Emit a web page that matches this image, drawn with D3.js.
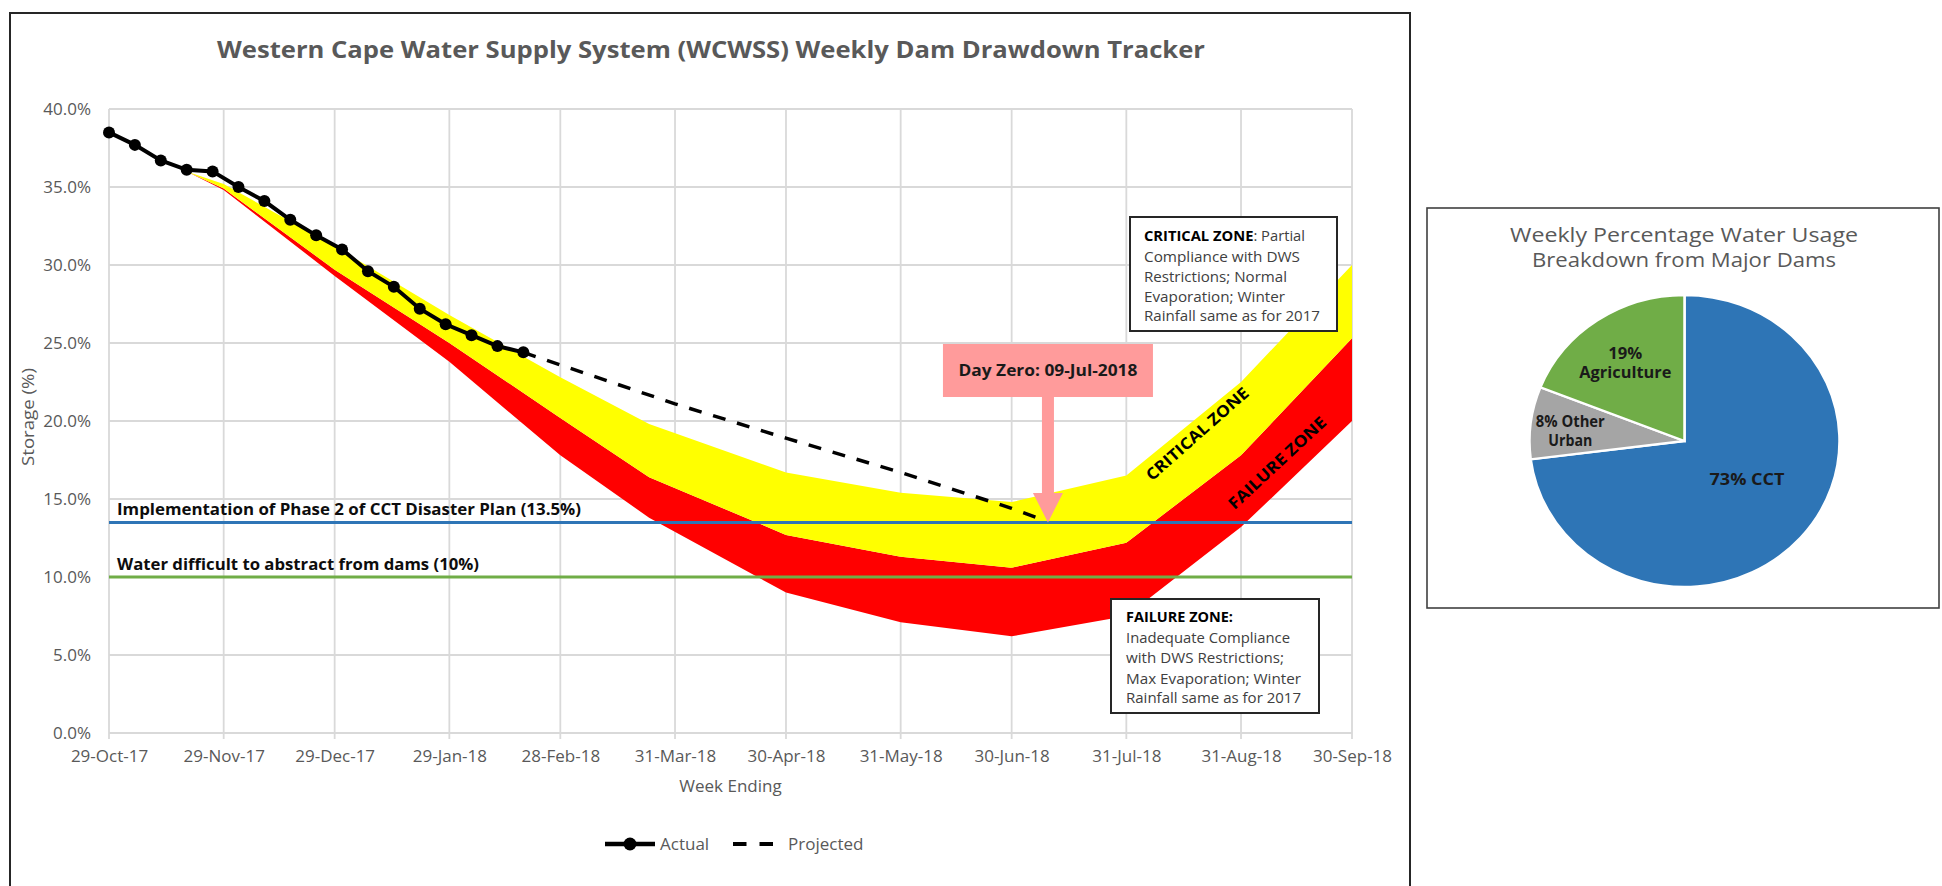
<!DOCTYPE html>
<html><head><meta charset="utf-8">
<script src="https://cdn.jsdelivr.net/npm/d3@7"></script>
<style>body{margin:0;background:#fff;} svg{display:block;}</style>
</head><body>
<svg id="c" width="1942" height="886"></svg>
<script>
// ---------------- DATA ----------------
const tickDates  = ["2017-10-29","2017-11-29","2017-12-29","2018-01-29","2018-02-28","2018-03-31","2018-04-30","2018-05-31","2018-06-30","2018-07-31","2018-08-31","2018-09-30"];
const tickLabels = ["29-Oct-17","29-Nov-17","29-Dec-17","29-Jan-18","28-Feb-18","31-Mar-18","30-Apr-18","31-May-18","30-Jun-18","31-Jul-18","31-Aug-18","30-Sep-18"];
const yTicks = [0, 5, 10, 15, 20, 25, 30, 35, 40];

const actualDates  = ["2017-10-29","2017-11-05","2017-11-12","2017-11-19","2017-11-26","2017-12-03","2017-12-10","2017-12-17","2017-12-24","2017-12-31","2018-01-07","2018-01-14","2018-01-21","2018-01-28","2018-02-04","2018-02-11","2018-02-18"];
const actualValues = [38.5, 37.7, 36.7, 36.1, 36.0, 35.0, 34.1, 32.9, 31.9, 31.0, 29.6, 28.6, 27.2, 26.2, 25.5, 24.8, 24.4];

const projectedDates  = ["2018-02-18","2018-03-31","2018-04-30","2018-05-31","2018-06-30","2018-07-08"];
const projectedValues = [24.4, 21.1, 18.9, 16.7, 14.4, 13.7];

const zoneDates     = ["2017-11-19","2017-11-29","2017-12-29","2018-01-29","2018-02-28","2018-03-24","2018-04-30","2018-05-31","2018-06-30","2018-07-31","2018-08-31","2018-09-30"];
const criticalUpper = [36.0, 35.2, 31.2, 26.8, 22.8, 19.8, 16.7, 15.4, 14.8, 16.5, 22.5, 30.0];
const failureUpper  = [36.0, 34.9, 29.7, 25.0, 20.2, 16.4, 12.7, 11.3, 10.6, 12.2, 17.8, 25.3];
const failureLower  = [36.0, 34.8, 29.3, 23.8, 17.8, 13.8,  9.0,  7.1,  6.2,  7.5, 13.2, 20.0];

const thresholdValues = [13.5, 10];
const thresholdLabels = ["Implementation of Phase 2 of CCT Disaster Plan (13.5%)", "Water difficult to abstract from dams (10%)"];
const thresholdColors = ["#2E75B6", "#70AD47"];

const dayZeroDate  = "2018-07-09";
const dayZeroValue = 13.5;
const dayZeroLabel = "Day Zero: 09-Jul-2018";

const criticalNote = [[["CRITICAL ZONE",1],[": Partial",0]],[["Compliance with DWS",0]],[["Restrictions; Normal",0]],[["Evaporation; Winter",0]],[["Rainfall same as for 2017",0]]];
const failureNote  = [[["FAILURE ZONE:",1]],[["Inadequate Compliance",0]],[["with DWS Restrictions;",0]],[["Max Evaporation; Winter",0]],[["Rainfall same as for 2017",0]]];

const pieCategories = ["CCT", "Other Urban", "Agriculture"];
const pieValues     = [73, 8, 19];
const pieLabelLines = [["73% CCT"], ["8% Other", "Urban"], ["19%", "Agriculture"]];
const pieColors     = ["#2E75B6", "#A5A5A5", "#70AD47"];

// ---------------- RENDER ----------------
const svg = d3.select("#c");
const parse = d3.timeParse("%Y-%m-%d");
const FONT = "'Open Sans', 'Noto Sans', sans-serif";
const GRAY = "#595959";
const M = {left: 109, right: 1352, top: 109, bottom: 733};

const x = d3.scaleTime().domain([parse(tickDates[0]), parse(tickDates[tickDates.length - 1])]).range([M.left, M.right]);
const y = d3.scaleLinear().domain([0, 40]).range([M.bottom, M.top]);
const fit = (sel, w) => sel.attr("textLength", w).attr("lengthAdjust", "spacingAndGlyphs");

// outer border
svg.append("rect").attr("x", 10).attr("y", 13).attr("width", 1400).attr("height", 900)
  .attr("fill", "none").attr("stroke", "#262626").attr("stroke-width", 2);

// title
svg.append("text").attr("x", 711).attr("y", 58).attr("text-anchor", "middle")
  .attr("font-family", FONT).attr("font-weight", 700).attr("font-size", 24).attr("fill", GRAY)
  .text("Western Cape Water Supply System (WCWSS) Weekly Dam Drawdown Tracker").call(fit, 988);

// gridlines
const grid = svg.append("g");
grid.selectAll("line.h").data(yTicks).join("line").attr("class", "h")
  .attr("x1", M.left).attr("x2", M.right).attr("y1", d => y(d)).attr("y2", d => y(d))
  .attr("stroke", "#D9D9D9").attr("stroke-width", 1.8);
grid.selectAll("line.v").data(tickDates).join("line").attr("class", "v")
  .attr("x1", d => x(parse(d))).attr("x2", d => x(parse(d))).attr("y1", y(40)).attr("y2", M.bottom + 6)
  .attr("stroke", "#D9D9D9").attr("stroke-width", 1.8);

// axes labels
const xAxis = d3.axisBottom(x).tickValues(tickDates.map(parse)).tickFormat((d, i) => tickLabels[i]).tickSize(0).tickPadding(17);
const gx = svg.append("g").attr("transform", `translate(0,${M.bottom})`).call(xAxis);
gx.select(".domain").remove();
gx.selectAll("text").attr("font-family", FONT).attr("font-size", 17).attr("fill", GRAY);

const yAxis = d3.axisLeft(y).tickValues(yTicks).tickFormat(d => d.toFixed(1) + "%").tickSize(0).tickPadding(18);
const gy = svg.append("g").attr("transform", `translate(${M.left},0)`).call(yAxis);
gy.select(".domain").remove();
gy.selectAll("text").attr("font-family", FONT).attr("font-size", 17).attr("fill", GRAY);

svg.append("text").attr("transform", "translate(34,417) rotate(-90)").attr("text-anchor", "middle")
  .attr("font-family", FONT).attr("font-size", 17).attr("fill", GRAY).text("Storage (%)").call(fit, 98);
svg.append("text").attr("x", (M.left + M.right) / 2).attr("y", 792).attr("text-anchor", "middle")
  .attr("font-family", FONT).attr("font-size", 17).attr("fill", GRAY).text("Week Ending");

// zone bands
const zone = zoneDates.map((d, i) => ({date: parse(d), top: criticalUpper[i], mid: failureUpper[i], low: failureLower[i]}));
svg.append("path").datum(zone).attr("fill", "#FF0000")
  .attr("d", d3.area().x(d => x(d.date)).y0(d => y(d.low)).y1(d => y(d.mid)));
svg.append("path").datum(zone).attr("fill", "#FFFF00")
  .attr("d", d3.area().x(d => x(d.date)).y0(d => y(d.mid)).y1(d => y(d.top)));

// threshold lines
thresholdValues.forEach((v, i) => {
  svg.append("line").attr("x1", M.left).attr("x2", M.right).attr("y1", y(v)).attr("y2", y(v))
    .attr("stroke", thresholdColors[i]).attr("stroke-width", 3);
});
const thrLabelW = [464, 362];
thresholdValues.forEach((v, i) => {
  svg.append("text").attr("x", M.left + 8).attr("y", y(v) - 7)
    .attr("font-family", FONT).attr("font-weight", 700).attr("font-size", 16).attr("fill", "#0d0d0d")
    .text(thresholdLabels[i]).call(fit, thrLabelW[i]);
});

// projected line
const proj = projectedDates.map((d, i) => ({date: parse(d), v: projectedValues[i]}));
svg.append("path").datum(proj).attr("fill", "none").attr("stroke", "#000").attr("stroke-width", 3.5)
  .attr("stroke-dasharray", "13,12")
  .attr("d", d3.line().x(d => x(d.date)).y(d => y(d.v)));

// actual line
const act = actualDates.map((d, i) => ({date: parse(d), v: actualValues[i]}));
svg.append("path").datum(act).attr("fill", "none").attr("stroke", "#000").attr("stroke-width", 4)
  .attr("d", d3.line().x(d => x(d.date)).y(d => y(d.v)));
svg.selectAll("circle.act").data(act).join("circle").attr("class", "act")
  .attr("cx", d => x(d.date)).attr("cy", d => y(d.v)).attr("r", 6).attr("fill", "#000");

// Day Zero callout
const dzx = x(parse(dayZeroDate)), dzy = y(dayZeroValue);
const PINK = "#FF9B9B";
svg.append("rect").attr("x", dzx - 102).attr("y", 344).attr("width", 210).attr("height", 53).attr("fill", PINK);
svg.append("path").attr("fill", PINK)
  .attr("d", `M${dzx - 3},397 L${dzx + 9},397 L${dzx + 9},493 L${dzx + 18},493 L${dzx + 3},${dzy} L${dzx - 12},493 L${dzx - 3},493 Z`);
svg.append("text").attr("x", dzx + 3).attr("y", 376).attr("text-anchor", "middle")
  .attr("font-family", FONT).attr("font-weight", 700).attr("font-size", 16).attr("fill", "#1a1a1a")
  .text(dayZeroLabel).call(fit, 179);

// rotated zone labels
svg.append("text").attr("transform", "translate(1201,438) rotate(-41.5)").attr("text-anchor", "middle")
  .attr("font-family", FONT).attr("font-weight", 700).attr("font-size", 16).attr("fill", "#000")
  .text("CRITICAL ZONE").call(fit, 131);
svg.append("text").attr("transform", "translate(1281,467) rotate(-43)").attr("text-anchor", "middle")
  .attr("font-family", FONT).attr("font-weight", 700).attr("font-size", 16).attr("fill", "#000")
  .text("FAILURE ZONE").call(fit, 127);

// annotation boxes
function noteBox(lines, bx, by, bw, bh, tx, baselines, widths) {
  const g = svg.append("g");
  g.append("rect").attr("x", bx).attr("y", by).attr("width", bw).attr("height", bh)
    .attr("fill", "#fff").attr("stroke", "#262626").attr("stroke-width", 2);
  lines.forEach((parts, i) => {
    const t = g.append("text").attr("x", tx).attr("y", baselines[i]).attr("font-family", FONT).attr("font-size", 15);
    parts.forEach(([s, b]) => t.append("tspan").attr("font-weight", b ? 700 : 400).attr("fill", b ? "#000" : "#404040").text(s));
    t.call(fit, widths[i]);
  });
}
noteBox(criticalNote, 1130, 217, 207, 114, 1144, [241, 261.5, 281.5, 301.5, 321], [161, 156, 143, 141, 176]);
noteBox(failureNote, 1111, 599, 208, 114, 1126, [622, 642.5, 663, 683.5, 703], [107, 164, 158, 175, 175]);

// legend
const lg = svg.append("g").attr("transform", "translate(0,844)");
lg.append("line").attr("x1", 605).attr("x2", 655).attr("stroke", "#000").attr("stroke-width", 4.5);
lg.append("circle").attr("cx", 630).attr("r", 6.5).attr("fill", "#000");
lg.append("text").attr("x", 660).attr("y", 6).attr("font-family", FONT).attr("font-size", 17).attr("fill", GRAY).text("Actual");
lg.append("line").attr("x1", 733).attr("x2", 773).attr("stroke", "#000").attr("stroke-width", 4).attr("stroke-dasharray", "13.5,13");
lg.append("text").attr("x", 788).attr("y", 6).attr("font-family", FONT).attr("font-size", 17).attr("fill", GRAY).text("Projected");

// ---------------- PIE ----------------
svg.append("rect").attr("x", 1427).attr("y", 208).attr("width", 512).attr("height", 400)
  .attr("fill", "#fff").attr("stroke", "#404040").attr("stroke-width", 1.6);
const pt = svg.append("g").attr("font-family", FONT).attr("font-size", 20).attr("fill", GRAY).attr("text-anchor", "middle");
pt.append("text").attr("x", 1684).attr("y", 242).text("Weekly Percentage Water Usage").call(fit, 348);
pt.append("text").attr("x", 1684).attr("y", 267).text("Breakdown from Major Dams").call(fit, 304);

const R = 155, squash = 146 / 155;
const pc = {x: 1684.5, y: 441};
const pie = d3.pie().sort(null).value(d => d)(pieValues);
const arc = d3.arc().innerRadius(0).outerRadius(R);
const pg = svg.append("g").attr("transform", `translate(${pc.x},${pc.y}) scale(1,${squash})`);
pg.selectAll("path").data(pie).join("path").attr("d", arc).attr("fill", (d, i) => pieColors[i])
  .attr("stroke", "#fff").attr("stroke-width", 2.5);

const labelFrac = [0.48, 0.74, 0.66];
const labelShift = [-0.15, -0.03, -0.02];   // radians, Excel best-fit placement
const labelW = [[75], [69, 44], [34, 92]];
pie.forEach((d, i) => {
  const a = (d.startAngle + d.endAngle) / 2 + labelShift[i], r = R * labelFrac[i];
  const cx = pc.x + r * Math.sin(a), cy = pc.y - r * Math.cos(a) * squash;
  const lines = pieLabelLines[i];
  lines.forEach((s, j) => {
    svg.append("text").attr("x", cx).attr("y", cy + 6 + (j - (lines.length - 1) / 2) * 19)
      .attr("text-anchor", "middle").attr("font-family", FONT).attr("font-weight", 700)
      .attr("font-size", 16).attr("fill", "#1a1a1a").text(s).call(fit, labelW[i][j]);
  });
});
</script>
</body></html>
